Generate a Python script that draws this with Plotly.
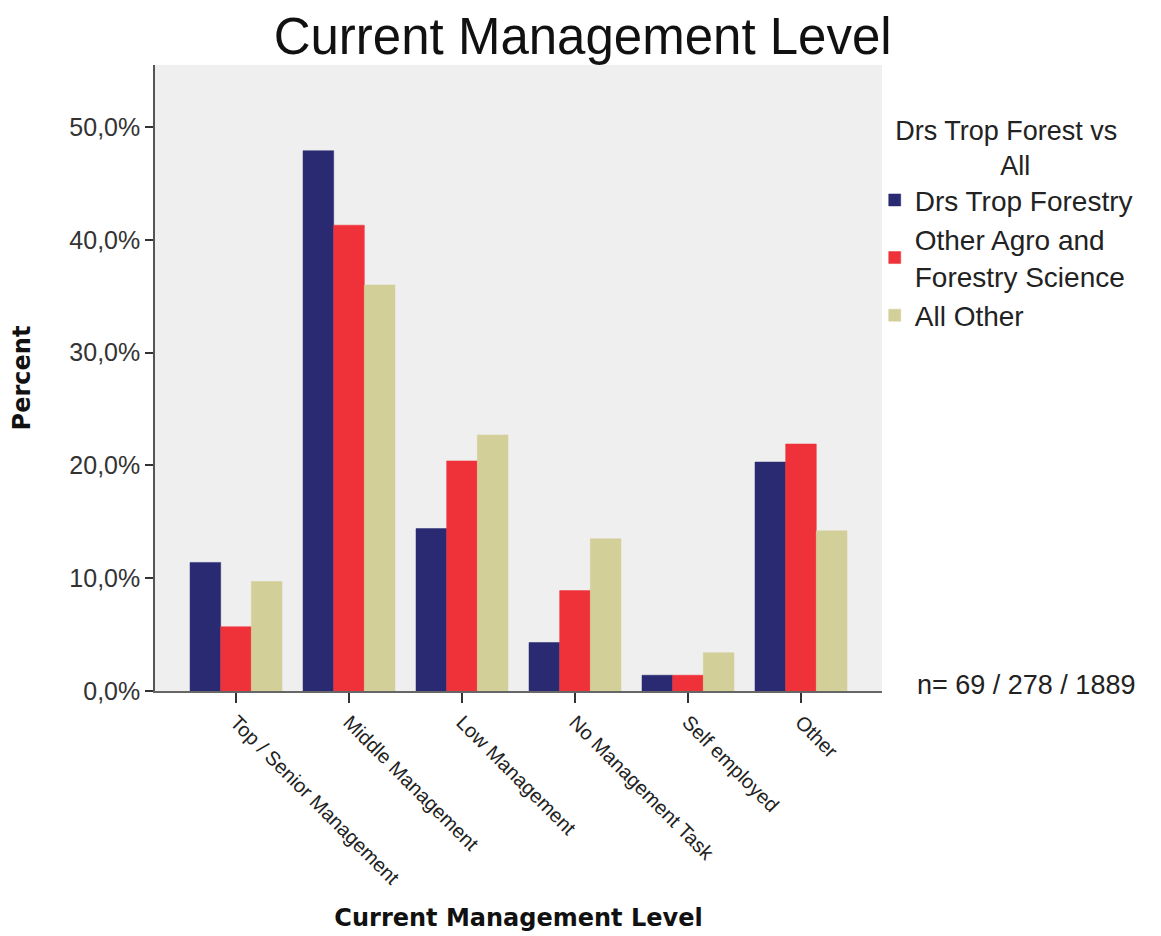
import plotly.graph_objects as go

categories = ["Top / Senior Management", "Middle Management", "Low Management",
              "No Management Task", "Self employed", "Other"]
drs_trop = [11.4, 47.9, 14.4, 4.3, 1.4, 20.3]
other_agro = [5.7, 41.3, 20.4, 8.9, 1.4, 21.9]
all_other = [9.7, 36.0, 22.7, 13.5, 3.4, 14.2]
series_names = ["Drs Trop Forestry", "Other Agro and<br>Forestry Science", "All Other"]
colors = ["#2a2a72", "#ef323a", "#d3cf98"]
y_ticks = [0, 10, 20, 30, 40, 50]
y_ticktext = ["0,0%", "10,0%", "20,0%", "30,0%", "40,0%", "50,0%"]

FONT = "Liberation Sans, Arial, sans-serif"
BOLD = "DejaVu Sans, Verdana, sans-serif"

fig = go.Figure()
for name, vals, col in zip(series_names, [drs_trop, other_agro, all_other], colors):
    fig.add_trace(go.Bar(x=categories, y=vals, name=name,
                         marker=dict(color=col, line=dict(width=0.5, color=col))))

fig.update_layout(
    width=1161, height=936,
    barmode="group", bargap=0.186, bargroupgap=0,
    paper_bgcolor="white", plot_bgcolor="#efefef",
    margin=dict(l=147, r=287, t=57, b=253),
    font=dict(family=FONT, color="#222222"),
    title=dict(text="Current Management Level", x=0.495, xanchor="center",
               y=0.970, yanchor="middle",
               font=dict(size=51, family=FONT, color="#111111")),
    legend=dict(x=0.990, xanchor="left", y=0.936, yanchor="top",
                title=dict(text="Drs Trop Forest vs<br>" + "&nbsp;" * 14 + "All",
                           side="top center",
                           font=dict(size=27, family=FONT, color="#222222")),
                font=dict(size=28, family=FONT, color="#222222"),
                bgcolor="rgba(0,0,0,0)", tracegroupgap=0, itemwidth=30),
    showlegend=True,
)
fig.update_xaxes(
    showline=True, linecolor="#666666", linewidth=1.5,
    ticks="outside", ticklen=10, tickcolor="#333333", tickwidth=1.5,
    tickangle=45, tickfont=dict(size=20, family=FONT, color="#222222"),
    range=[-0.717, 5.717], showgrid=False,
    title=dict(text="<b>Current Management Level</b>", standoff=21,
               font=dict(size=24, family=BOLD, color="#111111")),
)
fig.update_yaxes(
    showline=True, linecolor="#555555", linewidth=1.5,
    ticks="outside", ticklen=8, tickcolor="#333333", tickwidth=1.5,
    tickvals=y_ticks, ticktext=y_ticktext, range=[0, 55.5],
    tickfont=dict(size=25, family=FONT, color="#333333"),
    showgrid=False, zeroline=False,
    title=dict(text="<b>Percent</b>", standoff=34,
               font=dict(size=24, family=BOLD, color="#111111")),
)
fig.add_annotation(text="n= 69 / 278 / 1889", xref="paper", yref="paper",
                   x=1.045, y=0.0096, xanchor="left", yanchor="middle",
                   showarrow=False, font=dict(size=27, family=FONT, color="#222222"))

fig.write_html("out.html")
